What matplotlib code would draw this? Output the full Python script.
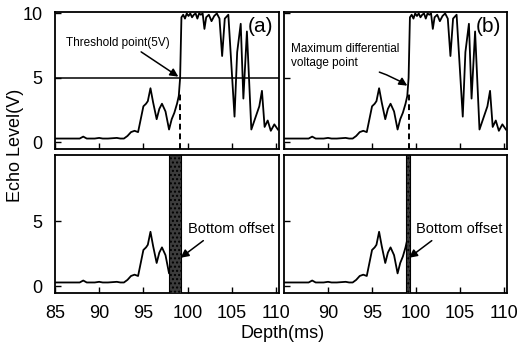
import numpy as np
import matplotlib
matplotlib.use("Agg")
import matplotlib.pyplot as plt

plt.rcParams.update({
    "font.family": ["Liberation Sans", "DejaVu Sans"],
    "font.size": 13,
    "xtick.direction": "in",
    "ytick.direction": "in",
    "axes.linewidth": 1.3,
})

# =========================
# Echo signal
# =========================
depth = [85.0, 86.0, 87.0, 87.8, 88.2, 88.6, 89.5, 90.0, 90.4, 91.0, 92.0, 92.4,
         92.8, 93.2, 93.6, 94.0, 94.4, 94.7, 95.0, 95.3, 95.5, 95.8, 96.1, 96.5,
         96.8, 97.1, 97.5, 97.9, 98.2, 98.5, 98.8, 99.0, 99.15, 99.3, 99.5, 99.7,
         99.9, 100.1, 100.3, 100.5, 100.7, 100.9, 101.1, 101.3, 101.5, 101.7, 101.9,
         102.1, 102.4, 102.7, 103.0, 103.3, 103.6, 103.9, 104.2, 104.6, 105.3, 105.6,
         106.0, 106.3, 106.7, 107.2, 107.7, 108.1, 108.4, 108.7, 109.05, 109.4,
         109.8, 110.2]
echo = [0.3, 0.3, 0.3, 0.3, 0.45, 0.3, 0.3, 0.35, 0.3, 0.3, 0.35, 0.3,
        0.3, 0.5, 0.8, 0.9, 0.8, 1.8, 2.8, 3.0, 3.2, 4.2, 3.1, 1.8,
        2.6, 3.0, 2.4, 1.0, 1.8, 2.3, 3.0, 3.6, 5.0, 9.7, 9.9, 9.6,
        10.0, 9.8, 10.0, 9.7, 9.9, 10.0, 9.6, 10.0, 9.9, 10.0, 8.8,
        9.7, 9.9, 9.4, 9.8, 10.0, 9.6, 6.7, 9.6, 9.9, 2.0, 7.0,
        9.2, 3.4, 8.6, 1.0, 2.0, 2.8, 4.0, 1.2, 1.7, 0.9,
        1.4, 1.0]

threshold_level = 5.0
detect_depth = {"a": 99.1, "b": 99.15}
offset_band = {"a": (97.9, 99.3), "b": (98.8, 99.3)}
x_ticks = [85, 90, 95, 100, 105, 110]
y_ticks_top = [0, 5, 10]
y_ticks_bot = [0, 5]

depth = np.array(depth)
echo = np.array(echo)
upper_part = depth <= 99.15

fig = plt.figure(figsize=(5.23, 3.47), dpi=100)
ax_a_top = fig.add_axes([0.105, 0.571, 0.428, 0.394])
ax_b_top = fig.add_axes([0.543, 0.571, 0.426, 0.394])
ax_a_bot = fig.add_axes([0.105, 0.156, 0.428, 0.397])
ax_b_bot = fig.add_axes([0.543, 0.156, 0.426, 0.397])

for ax in [ax_a_top, ax_b_top, ax_a_bot, ax_b_bot]:
    ax.set_xlim(85, 110.3)
    ax.set_ylim(-0.5, 10.1)
    ax.set_xticks(x_ticks)
    ax.tick_params(length=4, width=1, pad=9, labelsize=13)

for ax in [ax_a_top, ax_b_top]:
    ax.plot(depth, echo, color="black", lw=1.3, clip_on=True)
    ax.set_yticks(y_ticks_top)
    ax.tick_params(labelbottom=False)
for ax in [ax_a_bot, ax_b_bot]:
    ax.set_yticks(y_ticks_bot)
for ax in [ax_b_top, ax_b_bot]:
    ax.tick_params(labelleft=False)

ax_b_bot.set_xticks(x_ticks[1:])

# (a) threshold method
ax_a_top.axhline(threshold_level, color="black", lw=1.1)
ax_a_top.plot([detect_depth["a"]] * 2, [-0.5, 4.0], color="black", lw=1.4, ls=(0, (3, 2)))
ax_a_top.annotate("Threshold point(5V)", xy=(98.95, 5.1), xytext=(86.3, 7.7),
                  fontsize=8.5, va="center",
                  arrowprops=dict(arrowstyle="-|>", color="black", lw=1.1,
                                  shrinkA=0, shrinkB=0, mutation_scale=12,
                                  relpos=(0.68, 0.0)))
ax_a_top.text(108.2, 9.0, "(a)", fontsize=15, ha="center", va="center")

# (b) maximum differential method
ax_b_top.plot([detect_depth["b"]] * 2, [-0.5, 4.0], color="black", lw=1.4, ls=(0, (3, 2)))
ax_b_top.annotate("Maximum differential\nvoltage point", xy=(99.0, 4.4), xytext=(85.8, 6.7),
                  fontsize=8.5, va="center", linespacing=1.3,
                  arrowprops=dict(arrowstyle="-|>", color="black", lw=1.1,
                                  shrinkA=0, shrinkB=0, mutation_scale=12,
                                  relpos=(0.62, 0.1),
                                  connectionstyle="arc3,rad=-0.1"))
ax_b_top.text(108.2, 9.0, "(b)", fontsize=15, ha="center", va="center")

# bottom panels: signal up to the detection point + bottom offset band
for ax, key in [(ax_a_bot, "a"), (ax_b_bot, "b")]:
    ax.plot(depth[upper_part], echo[upper_part], color="black", lw=1.3)
    x0, x1 = offset_band[key]
    ax.axvspan(x0, x1, facecolor="#3c3c3c", edgecolor="black", lw=0.8,
               hatch="....", zorder=3)
    ax.annotate("Bottom offset", xy=(x1 - 0.1, 2.2), xytext=(100.0, 4.4),
                fontsize=10.5, va="center",
                arrowprops=dict(arrowstyle="-|>", color="black", lw=1.1,
                                shrinkA=2, shrinkB=0, mutation_scale=12,
                                relpos=(0.25, 0.0)), zorder=4)

fig.text(0.029, 0.58, "Echo Level(V)", rotation=90, ha="center", va="center", fontsize=13)
fig.text(0.54, 0.04, "Depth(ms)", ha="center", va="center", fontsize=13)

fig.savefig("out.png", dpi=100)
